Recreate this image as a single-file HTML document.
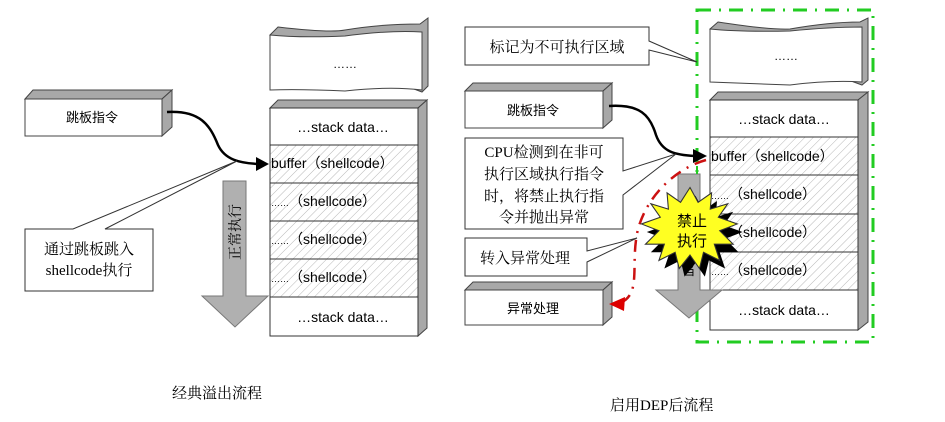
<!DOCTYPE html>
<html><head><meta charset="utf-8"><style>
body{margin:0;background:#fff;}
svg{display:block;}
text{font-family:"Liberation Sans","Noto Sans CJK SC",sans-serif;fill:#000;}
.s{font-family:"Liberation Serif","Noto Serif CJK SC",serif;}
</style></head><body>
<svg width="945" height="422" viewBox="0 0 945 422" xmlns="http://www.w3.org/2000/svg">
<defs>
<pattern id="h" width="6" height="6" patternUnits="userSpaceOnUse" patternTransform="rotate(45)">
<rect width="6" height="6" fill="#fff"/><line x1="0" y1="0" x2="0" y2="6" stroke="#b8b8b8" stroke-width="1"/>
</pattern>
</defs>

<!-- LEFT -->
<path d="M270,35 L278,27 Q330,33 345,30 Q380,24 420,24 L428,18 L428,86 L422,92 Z" fill="#a8a8a8" stroke="#444"/>
<path d="M270,35 Q300,38 345,36 Q390,30 422,32 L422,90 Q390,86 345,91 Q300,89 270,90 Z" fill="#fff" stroke="#444"/>
<text x="345" y="68" font-size="12" text-anchor="middle">……</text>
<polygon points="270,108 278,100 427,100 418,108" fill="#a8a8a8" stroke="#444"/>
<polygon points="418,108 427,100 427,328 418,336" fill="#a8a8a8" stroke="#444"/>
<rect x="270" y="108" width="148" height="228" fill="#fff" stroke="#333"/>
<rect x="270" y="145" width="148" height="152" fill="url(#h)" stroke="#333"/>
<line x1="270" y1="183" x2="418" y2="183" stroke="#333"/>
<line x1="270" y1="221" x2="418" y2="221" stroke="#333"/>
<line x1="270" y1="259" x2="418" y2="259" stroke="#333"/>
<text x="343" y="132" font-size="14" text-anchor="middle">…stack data…</text>
<text x="271" y="168" font-size="14">buffer（shellcode）</text>
<text x="271" y="206" font-size="14"><tspan font-size="9">……</tspan>（shellcode）</text>
<text x="271" y="244" font-size="14"><tspan font-size="9">……</tspan>（shellcode）</text>
<text x="271" y="282" font-size="14"><tspan font-size="9">……</tspan>（shellcode）</text>
<text x="343" y="322" font-size="14" text-anchor="middle">…stack data…</text>
<polygon points="25,99 33,90 172,90 162,99" fill="#a8a8a8" stroke="#444"/>
<polygon points="162,99 172,90 172,127 162,136" fill="#a8a8a8" stroke="#444"/>
<rect x="25" y="99" width="137" height="37" fill="#fff" stroke="#444"/>
<text x="92" y="122" font-size="13" text-anchor="middle">跳板指令</text>
<polygon points="223,181 246,181 246,296 268,296 235,327 202,296 223,296" fill="#b0b0b0" stroke="#777"/>
<text transform="translate(240,232) rotate(-90)" font-size="14" text-anchor="middle" class="s">正常执行</text>
<path d="M167,112 C200,110 210,125 218,145 C225,160 240,163 258,164" fill="none" stroke="#000" stroke-width="2.5"/>
<polygon points="256,157 269,164 256,171" fill="#000"/>
<polygon points="25,229 73,229 237,161 105,229 153,229 153,291 25,291" fill="#fff" stroke="#333"/>
<text x="89" y="254" font-size="15" text-anchor="middle" class="s">通过跳板跳入</text>
<text x="89" y="275" font-size="15" text-anchor="middle" class="s">shellcode执行</text>
<text x="172" y="398" font-size="15" class="s">经典溢出流程</text>

<!-- RIGHT -->
<rect x="697" y="10" width="176" height="332" fill="none" stroke="#22cc22" stroke-width="3" stroke-dasharray="14,8,2,8"/>
<path d="M710,29 L718,22 Q770,30 790,29 Q830,22 860,22 L868,18 L868,80 L862,85 Z" fill="#a8a8a8" stroke="#444"/>
<path d="M710,29 Q740,32 790,31 Q830,27 862,27 L862,82 Q830,80 790,85 Q740,83 710,82 Z" fill="#fff" stroke="#444"/>
<text x="786" y="60" font-size="12" text-anchor="middle">……</text>
<polygon points="710,100 718,92 868,92 858,100" fill="#a8a8a8" stroke="#444"/>
<polygon points="858,100 868,92 868,322 858,330" fill="#a8a8a8" stroke="#444"/>
<rect x="710" y="100" width="148" height="230" fill="#fff" stroke="#333"/>
<rect x="710" y="137" width="148" height="153" fill="url(#h)" stroke="#333"/>
<line x1="710" y1="175" x2="858" y2="175" stroke="#333"/>
<line x1="710" y1="214" x2="858" y2="214" stroke="#333"/>
<line x1="710" y1="252" x2="858" y2="252" stroke="#333"/>
<text x="784" y="124" font-size="14" text-anchor="middle">…stack data…</text>
<text x="711" y="161" font-size="14">buffer（shellcode）</text>
<text x="711" y="199" font-size="14"><tspan font-size="9">……</tspan>（shellcode）</text>
<text x="711" y="237" font-size="14"><tspan font-size="9">……</tspan>（shellcode）</text>
<text x="711" y="275" font-size="14"><tspan font-size="9">……</tspan>（shellcode）</text>
<text x="784" y="315" font-size="14" text-anchor="middle">…stack data…</text>
<polygon points="678,174 700,174 700,290 722,290 689,318 656,290 678,290" fill="#b0b0b0" stroke="#777"/>
<line x1="697" y1="166" x2="697" y2="174" stroke="#22cc22" stroke-width="2"/>
<text x="689" y="275" font-size="12" text-anchor="middle">当</text>
<polygon points="465,27 649,27 649,41 697,62 649,50 649,65 465,65" fill="#fff" stroke="#333"/>
<text x="557" y="52" font-size="15" text-anchor="middle" class="s">标记为不可执行区域</text>
<polygon points="465,91 473,83 612,83 603,91" fill="#a8a8a8" stroke="#444"/>
<polygon points="603,91 612,83 612,120 603,128" fill="#a8a8a8" stroke="#444"/>
<rect x="465" y="91" width="138" height="37" fill="#fff" stroke="#444"/>
<text x="533" y="115" font-size="13" text-anchor="middle">跳板指令</text>
<path d="M609,106 C640,104 650,115 656,135 C662,152 675,155 695,156" fill="none" stroke="#000" stroke-width="2.5"/>
<polygon points="693,149 707,156 693,163" fill="#000"/>
<polygon points="465,138 623,138 623,171 676,154 623,195 623,229 465,229" fill="#fff" stroke="#333"/>
<text x="544" y="157" font-size="15" text-anchor="middle" class="s">CPU检测到在非可</text>
<text x="544" y="179" font-size="15" text-anchor="middle" class="s">执行区域执行指令</text>
<text x="544" y="201" font-size="15" text-anchor="middle" class="s">时，将禁止执行指</text>
<text x="544" y="222" font-size="15" text-anchor="middle" class="s">令并抛出异常</text>
<polygon points="465,238 587,238 587,251 637,238 587,262 587,276 465,276" fill="#fff" stroke="#333"/>
<text x="525" y="263" font-size="15" text-anchor="middle" class="s">转入异常处理</text>
<polygon points="465,290 473,282 612,282 603,290" fill="#a8a8a8" stroke="#444"/>
<polygon points="603,290 612,282 612,317 603,325" fill="#a8a8a8" stroke="#444"/>
<rect x="465" y="290" width="138" height="35" fill="#fff" stroke="#444"/>
<text x="533" y="313" font-size="13" text-anchor="middle">异常处理</text>
<path d="M706,160 C670,170 640,205 636,240 C632,270 640,295 620,303" fill="none" stroke="#cc1111" stroke-width="2.5" stroke-dasharray="12,7,2,7"/>
<polygon points="609,304 625,297 624,311" fill="#dd0000"/>
<g transform="translate(690,228) scale(1.35) translate(-690,-228)">
<polygon transform="translate(4,6)" points="690,198 696,209 706,202 705,214 718,210 711,220 725,225 712,230 722,240 708,240 712,252 700,246 697,258 690,248 682,258 679,246 667,252 671,240 657,240 667,230 654,225 668,220 661,210 674,214 673,202 683,209" fill="#000"/>
<polygon points="690,198 696,209 706,202 705,214 718,210 711,220 725,225 712,230 722,240 708,240 712,252 700,246 697,258 690,248 682,258 679,246 667,252 671,240 657,240 667,230 654,225 668,220 661,210 674,214 673,202 683,209" fill="#ffff22" stroke="#333" stroke-width="0.8"/>
</g>
<text x="692" y="226" font-size="15" text-anchor="middle">禁止</text>
<text x="692" y="246" font-size="15" text-anchor="middle">执行</text>
<text x="610" y="410" font-size="15" class="s">启用DEP后流程</text>
</svg>
</body></html>
